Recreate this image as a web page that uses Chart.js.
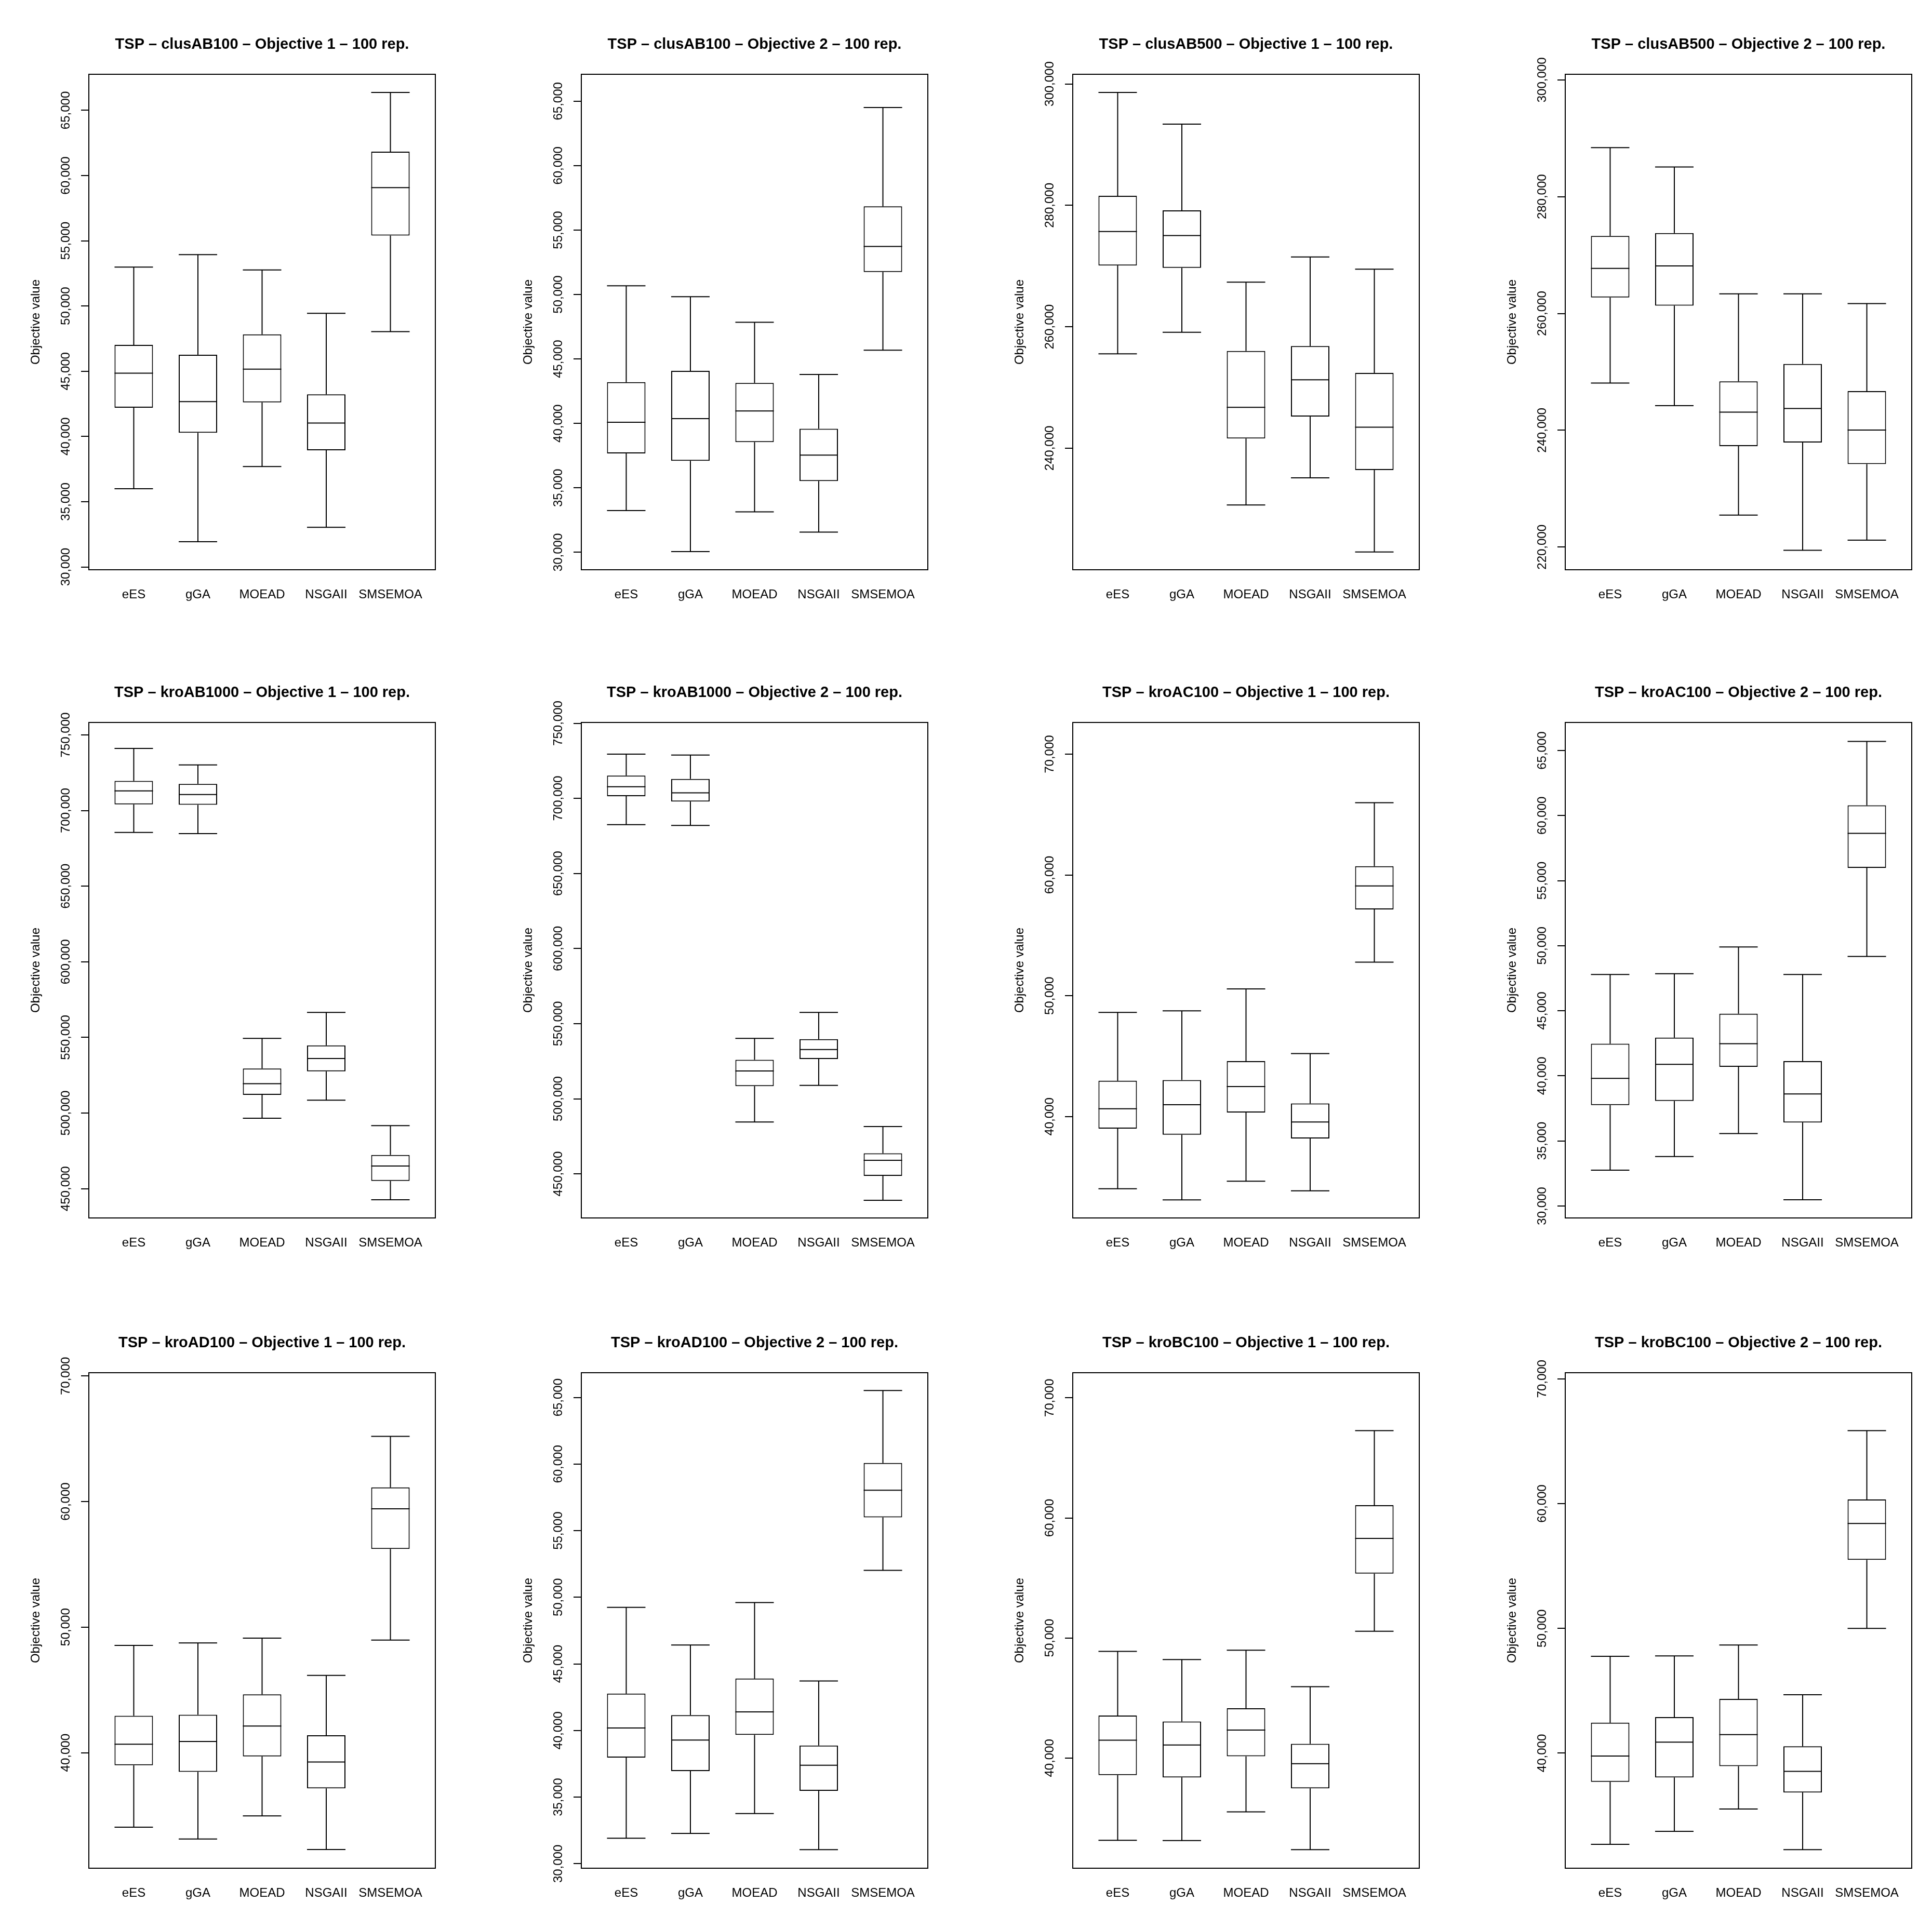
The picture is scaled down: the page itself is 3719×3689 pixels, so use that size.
<!DOCTYPE html>
<html>
<head>
<meta charset="utf-8">
<script src="https://cdn.jsdelivr.net/npm/chart.js@4.4.1/dist/chart.umd.min.js"></script>
<style>
  html, body { margin: 0; padding: 0; background: #fff; }
  #page { position: relative; width: 3719px; height: 3689px; overflow: hidden; background: #fff; }
  #page canvas { position: absolute; }
</style>
</head>
<body>
<div id="page"></div>
<script>
const methods = ['eES', 'gGA', 'MOEAD', 'NSGAII', 'SMSEMOA'];

// per method: [lower whisker, Q1, median, Q3, upper whisker]
const clusAB100Obj1 = [[35990, 42200, 44850, 47020, 52980], [31930, 40280, 42670, 46270, 53940], [37700, 42610, 45160, 47830, 52760], [33040, 38940, 41030, 43230, 49440], [48040, 55400, 59070, 61830, 66370]];
const clusAB100Obj2 = [[33240, 37670, 40090, 43200, 50680], [30060, 37100, 40370, 44080, 49830], [33140, 38550, 40970, 43140, 47850], [31570, 35530, 37540, 39590, 43800], [45680, 51750, 53730, 56840, 64510]];
const clusAB500Obj1 = [[255550, 270100, 275700, 281570, 298590], [259090, 269700, 275030, 279170, 293380], [230660, 241600, 246740, 256020, 267360], [235130, 245210, 251280, 256820, 271500], [222920, 236400, 243470, 252410, 269500]];
const clusAB500Obj2 = [[248100, 262740, 267730, 273280, 288410], [244210, 261350, 268150, 273770, 285080], [225480, 237280, 243100, 248380, 263360], [219450, 237900, 243730, 251360, 263360], [221180, 234220, 240050, 246710, 261700]];
const kroAB1000Obj1 = [[685540, 704060, 713040, 719580, 741090], [684720, 703780, 710590, 717670, 730200], [496560, 512080, 519440, 529510, 549390], [508550, 527610, 536050, 544760, 566540], [442650, 455170, 464980, 472330, 491660]];
const kroAB1000Obj2 = [[682520, 701440, 707750, 715150, 729410], [681970, 697880, 703640, 712960, 728860], [484550, 508410, 518550, 525950, 540210], [508950, 526500, 532810, 539660, 557490], [432450, 448630, 459050, 463710, 481530]];
const kroAC100Obj1 = [[34030, 39010, 40650, 42970, 48630], [33110, 38500, 40990, 43030, 48760], [34650, 40340, 42490, 44600, 50570], [33860, 38190, 39560, 41090, 45220], [52780, 57150, 59090, 60730, 65980]];
const kroAC100Obj2 = [[32750, 37750, 39810, 42470, 47790], [33800, 38070, 40890, 42940, 47850], [35570, 40700, 42470, 44780, 49910], [30480, 36420, 38610, 41140, 47790], [49180, 55980, 58640, 60790, 65700]];
const kroAD100Obj1 = [[34070, 39000, 40680, 42940, 48550], [33130, 38480, 40900, 43030, 48740], [34970, 39710, 42130, 44650, 49130], [32290, 37160, 39260, 41390, 46160], [48970, 56230, 59420, 61130, 65190]];
const kroAD100Obj2 = [[31920, 37970, 40190, 42770, 49250], [32280, 36960, 39280, 41160, 46420], [33770, 39670, 41400, 43900, 49610], [31060, 35470, 37390, 38880, 43720], [52020, 56000, 58040, 60080, 65520]];
const kroBC100Obj1 = [[33150, 38580, 41490, 43540, 48880], [33120, 38380, 41080, 43040, 48200], [35510, 40140, 42330, 44150, 48980], [32370, 37470, 39530, 41180, 45940], [50560, 55360, 58290, 61060, 67270]];
const kroBC100Obj2 = [[32690, 37700, 39770, 42440, 47760], [33730, 38050, 40880, 42890, 47790], [35520, 38960, 41490, 44350, 48670], [32270, 36850, 38540, 40550, 44680], [50000, 55490, 58410, 60330, 65850]];

// y tick values
const ticks30to65k = [30000, 35000, 40000, 45000, 50000, 55000, 60000, 65000];
const ticks40to70k = [40000, 50000, 60000, 70000];
const ticks240to300k = [240000, 260000, 280000, 300000];
const ticks220to300k = [220000, 240000, 260000, 280000, 300000];
const ticks450to750k = [450000, 500000, 550000, 600000, 650000, 700000, 750000];

// y axis limits (value at bottom / top of the frame)
const yLimits = [
  [29783, 67764], [28648, 67087], [219981, 301592], [216115, 300967],
  [430667, 758244], [420661, 750523], [31614, 72624], [29082, 67157],
  [30806, 70260], [29665, 66857], [30820, 72096], [30779, 70489]
];

const panelTitles = [
  'TSP \u2013 clusAB100 \u2013 Objective 1 \u2013 100 rep.',
  'TSP \u2013 clusAB100 \u2013 Objective 2 \u2013 100 rep.',
  'TSP \u2013 clusAB500 \u2013 Objective 1 \u2013 100 rep.',
  'TSP \u2013 clusAB500 \u2013 Objective 2 \u2013 100 rep.',
  'TSP \u2013 kroAB1000 \u2013 Objective 1 \u2013 100 rep.',
  'TSP \u2013 kroAB1000 \u2013 Objective 2 \u2013 100 rep.',
  'TSP \u2013 kroAC100 \u2013 Objective 1 \u2013 100 rep.',
  'TSP \u2013 kroAC100 \u2013 Objective 2 \u2013 100 rep.',
  'TSP \u2013 kroAD100 \u2013 Objective 1 \u2013 100 rep.',
  'TSP \u2013 kroAD100 \u2013 Objective 2 \u2013 100 rep.',
  'TSP \u2013 kroBC100 \u2013 Objective 1 \u2013 100 rep.',
  'TSP \u2013 kroBC100 \u2013 Objective 2 \u2013 100 rep.'
];

const panelStats = [clusAB100Obj1, clusAB100Obj2, clusAB500Obj1, clusAB500Obj2, kroAB1000Obj1, kroAB1000Obj2,
  kroAC100Obj1, kroAC100Obj2, kroAD100Obj1, kroAD100Obj2, kroBC100Obj1, kroBC100Obj2];
const panelTicks = [ticks30to65k, ticks30to65k, ticks240to300k, ticks220to300k, ticks450to750k, ticks450to750k,
  ticks40to70k, ticks30to65k, ticks40to70k, ticks30to65k, ticks40to70k, ticks40to70k];

// layout (page pixels)
const frameLefts = [171, 1119, 2065, 3013];
const frameTops = [143, 1391, 2643];
const frameW = 667, frameH = 954;
const padL = 160, padR = 20, padT = 110, padB = 80;
const FONT = '"Liberation Sans", Arial, Helvetica, sans-serif';

const fmt = v => v.toLocaleString('en-US');

// R style frame + vertical tick labels
const rFrame = {
  id: 'rFrame',
  afterDraw(chart) {
    const { ctx, chartArea: a } = chart;
    const y = chart.scales.y;
    ctx.save();
    ctx.strokeStyle = '#000';
    ctx.lineWidth = 2;
    ctx.strokeRect(a.left, a.top, a.right - a.left, a.bottom - a.top);
    ctx.fillStyle = '#000';
    ctx.font = '24px ' + FONT;
    ctx.textAlign = 'center';
    ctx.textBaseline = 'middle';
    y.ticks.forEach(t => {
      ctx.save();
      ctx.translate(a.left - 43.5, y.getPixelForValue(t.value));
      ctx.rotate(-Math.PI / 2);
      ctx.fillText(fmt(t.value), 0, 0);
      ctx.restore();
    });
    ctx.restore();
  }
};

const page = document.getElementById('page');

panelStats.forEach((stats, p) => {
  const col = p % 4, row = Math.floor(p / 4);
  const canvas = document.createElement('canvas');
  canvas.width = padL + frameW + padR;
  canvas.height = padT + frameH + padB;
  canvas.style.left = (frameLefts[col] - padL) + 'px';
  canvas.style.top = (frameTops[row] - padT) + 'px';
  page.appendChild(canvas);

  const tickVals = panelTicks[p];
  const box = stats.map((s, i) => ({ x: i + 1, y: [s[1], s[3]] }));
  const lowWhisker = stats.map((s, i) => ({ x: i + 1, y: [s[0], s[1]] }));
  const highWhisker = stats.map((s, i) => ({ x: i + 1, y: [s[3], s[4]] }));
  const hLines = stats.flatMap((s, i) => [{ x: i + 1, y: s[0] }, { x: i + 1, y: s[2] }, { x: i + 1, y: s[4] }]);

  const whiskerStyle = {
    type: 'bar', backgroundColor: '#000', borderWidth: 0, barThickness: 2,
    grouped: false, inflateAmount: 0, order: 3
  };

  new Chart(canvas.getContext('2d'), {
    type: 'bar',
    data: {
      datasets: [
        Object.assign({ data: lowWhisker }, whiskerStyle),
        Object.assign({ data: highWhisker }, whiskerStyle),
        {
          type: 'bar', data: box, backgroundColor: '#fff', borderColor: '#000', borderWidth: 2,
          borderSkipped: false, barThickness: 74, grouped: false, inflateAmount: 0, order: 2
        },
        {
          type: 'scatter', data: hLines, pointStyle: 'line', pointRadius: 37, pointHoverRadius: 37,
          pointBorderWidth: 2, pointBorderColor: '#000', order: 1
        }
      ]
    },
    options: {
      responsive: false,
      animation: false,
      devicePixelRatio: 1,
      layout: { padding: { left: 0, right: padR, top: 0, bottom: 0 }, autoPadding: false },
      plugins: {
        legend: { display: false },
        tooltip: { enabled: false },
        title: {
          display: true, text: panelTitles[p], color: '#000', fullSize: false,
          font: { family: FONT, size: 29, weight: 'bold' },
          padding: { top: 35.8, bottom: 39.4 }
        }
      },
      scales: {
        x: {
          type: 'linear', min: 0.3, max: 5.7, offset: false,
          grid: { display: false, offset: false }, border: { display: false },
          afterBuildTicks: s => { s.ticks = methods.map((m, i) => ({ value: i + 1 })); },
          afterFit: s => { s.height = padB; },
          ticks: {
            autoSkip: false, maxRotation: 0, minRotation: 0, padding: 26, color: '#000',
            font: { family: FONT, size: 24 },
            callback: v => methods[v - 1]
          }
        },
        y: {
          type: 'linear', min: yLimits[p][0], max: yLimits[p][1],
          border: { display: false },
          grid: { drawOnChartArea: false, drawTicks: true, tickLength: 15, color: '#000', lineWidth: 2 },
          afterBuildTicks: s => { s.ticks = tickVals.map(v => ({ value: v })); },
          afterFit: s => { s.width = padL; },
          ticks: { display: false },
          title: {
            display: true, text: 'Objective value', color: '#000',
            font: { family: FONT, size: 24 }, padding: { top: 44, bottom: 0 }
          }
        }
      }
    },
    plugins: [rFrame]
  });
});
</script>
</body>
</html>
